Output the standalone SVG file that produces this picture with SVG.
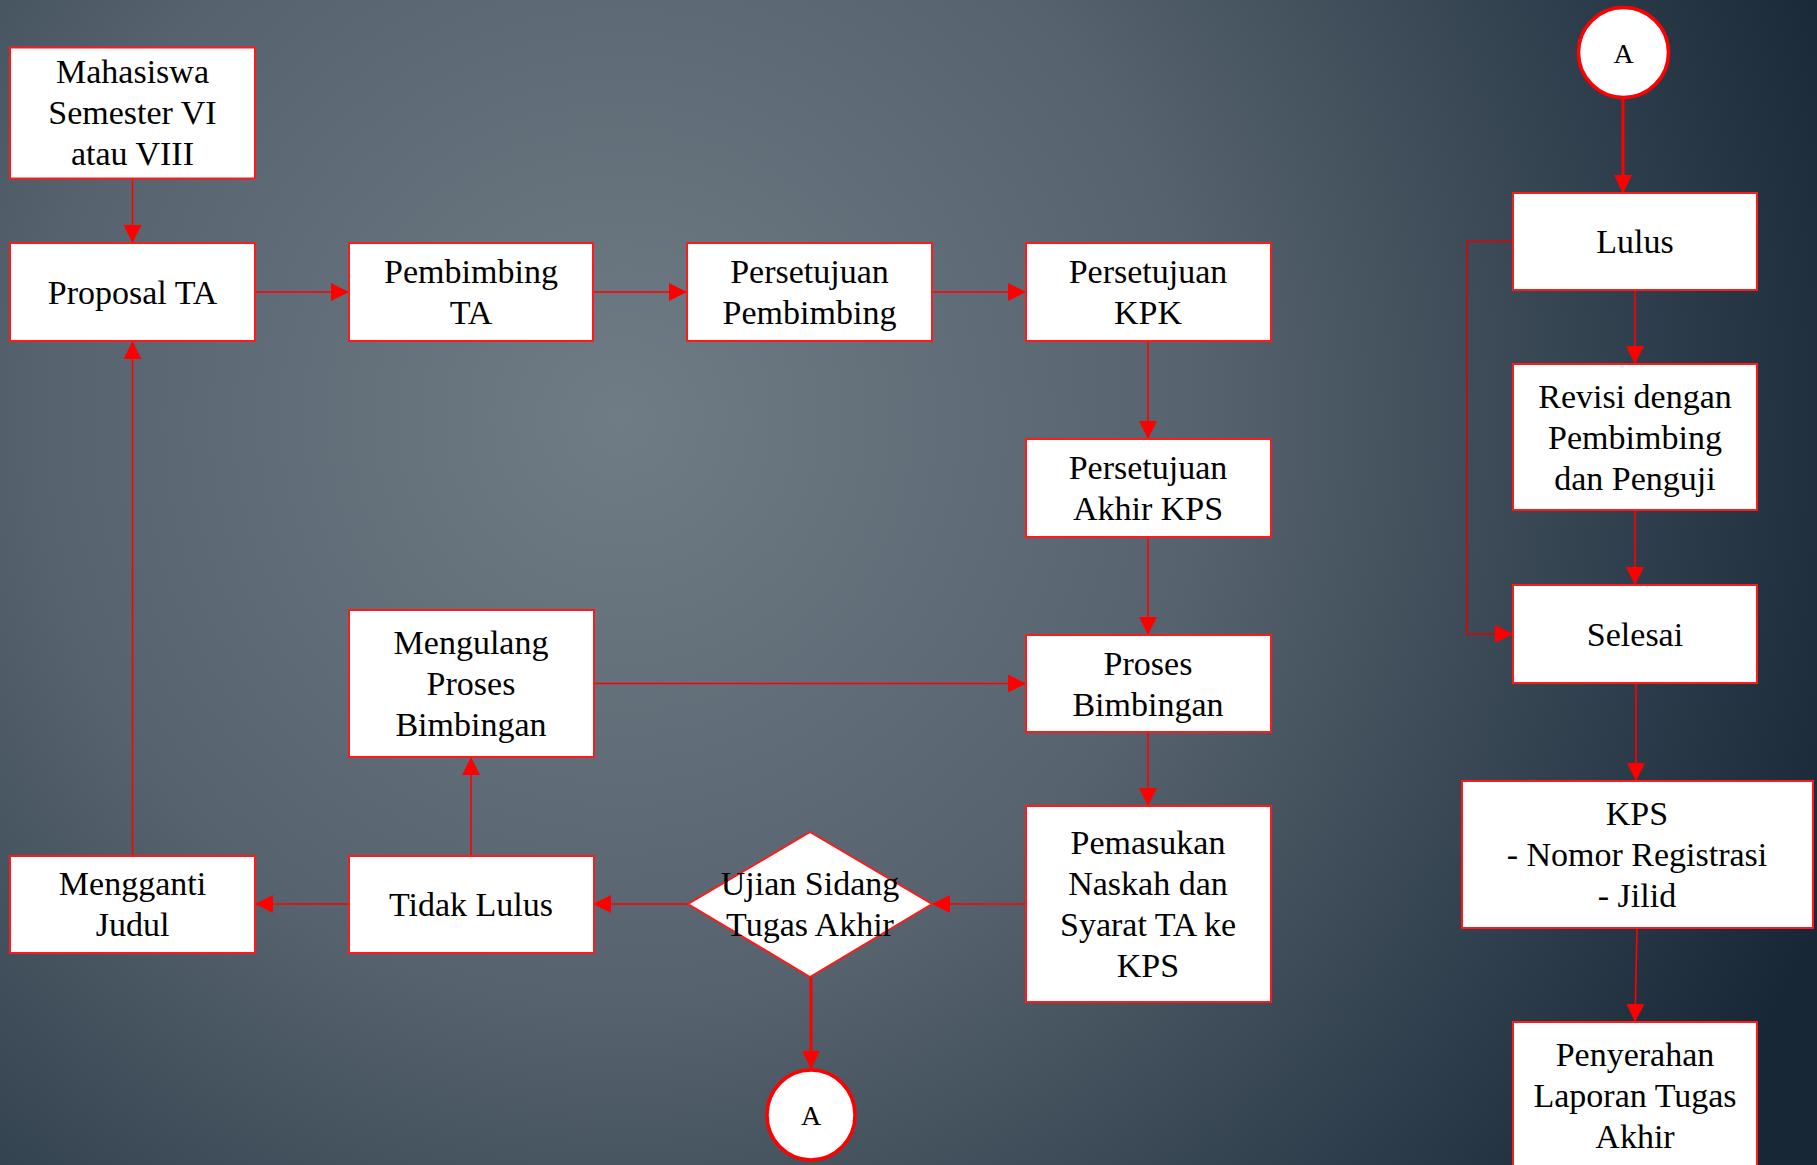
<svg xmlns="http://www.w3.org/2000/svg" width="1817" height="1165" viewBox="0 0 1817 1165">
<defs>
<radialGradient id="bg" gradientUnits="userSpaceOnUse" cx="620" cy="420" r="1300">
<stop offset="0" stop-color="#6f7b85"/>
<stop offset="0.45" stop-color="#56636e"/>
<stop offset="0.8" stop-color="#2e3d4b"/>
<stop offset="1" stop-color="#182736"/>
</radialGradient>
<marker id="ah" markerUnits="userSpaceOnUse" markerWidth="20" markerHeight="20" refX="18" refY="9" orient="auto">
<path d="M0,0 L18,9 L0,18 z" fill="#ff0000"/>
</marker>
<style>
.box{fill:#ffffff;stroke:#ff1a1a;stroke-width:2}
.circ{fill:#ffffff;stroke:#ff0000;stroke-width:3.5}
.t{font-family:"Liberation Serif","Times New Roman",serif;font-size:34px;fill:#000;text-anchor:middle;dominant-baseline:central}
.ta{font-family:"Liberation Serif","Times New Roman",serif;font-size:28px;fill:#000;text-anchor:middle;dominant-baseline:central}
.c{fill:none;stroke:#ff0000;stroke-width:1.6;marker-end:url(#ah)}
.ck{fill:none;stroke:#ff0000;stroke-width:3;marker-end:url(#ah)}
</style>
</defs>
<rect x="0" y="0" width="1817" height="1165" fill="url(#bg)"/>

<g id="connectors">
<path class="c" d="M132.5,178.5 V243"/>
<path class="c" d="M255,292 H349"/>
<path class="c" d="M593,292 H687"/>
<path class="c" d="M932,292 H1026"/>
<path class="c" d="M1148,341 V439"/>
<path class="c" d="M1148,537 V635"/>
<path class="c" d="M1148,732 V806"/>
<path class="c" d="M1026,904 H932"/>
<path class="c" d="M688,904 H593"/>
<path class="c" d="M349,904 H255"/>
<path class="c" d="M471,856 V757"/>
<path class="c" d="M594,683.5 H1026"/>
<path class="c" d="M132.5,855 V341"/>
<path class="ck" d="M811,977 V1069"/>
<path class="ck" d="M1623,98 V193"/>
<path class="c" d="M1635,290 V364"/>
<path class="c" d="M1635,510 V585"/>
<path class="c" d="M1513,241.5 H1467 V634 H1513" style="stroke:#e00000"/>
<path class="c" d="M1636,683 V781"/>
<path class="c" d="M1637,928 L1635,1022"/>
</g>

<g id="n-mahasiswa"><rect class="box" x="10" y="47.5" width="245" height="131"/>
<text class="t" x="132.5" y="71.5">Mahasiswa</text><text class="t" x="132.5" y="112.5">Semester VI</text><text class="t" x="132.5" y="153.5">atau VIII</text></g>

<g id="n-proposal"><rect class="box" x="10" y="243" width="245" height="98"/>
<text class="t" x="132.5" y="292">Proposal TA</text></g>

<g id="n-pembimbing"><rect class="box" x="349" y="243" width="244" height="98"/>
<text class="t" x="471" y="271.5">Pembimbing</text><text class="t" x="471" y="312.5">TA</text></g>

<g id="n-persetujuan-pembimbing"><rect class="box" x="687" y="243" width="245" height="98"/>
<text class="t" x="809.5" y="271.5">Persetujuan</text><text class="t" x="809.5" y="312.5">Pembimbing</text></g>

<g id="n-persetujuan-kpk"><rect class="box" x="1026" y="243" width="245" height="98"/>
<text class="t" x="1148" y="271.5">Persetujuan</text><text class="t" x="1148" y="312.5">KPK</text></g>

<g id="n-akhir-kps"><rect class="box" x="1026" y="439" width="245" height="98"/>
<text class="t" x="1148" y="467.5">Persetujuan</text><text class="t" x="1148" y="508.5">Akhir KPS</text></g>

<g id="n-proses"><rect class="box" x="1026" y="635" width="245" height="97"/>
<text class="t" x="1148" y="663">Proses</text><text class="t" x="1148" y="704">Bimbingan</text></g>

<g id="n-pemasukan"><rect class="box" x="1026" y="806" width="245" height="196"/>
<text class="t" x="1148" y="842.5">Pemasukan</text><text class="t" x="1148" y="883.5">Naskah dan</text><text class="t" x="1148" y="924.5">Syarat TA ke</text><text class="t" x="1148" y="965.5">KPS</text></g>

<g id="n-ujian"><polygon class="box" points="810,832 932,904 810,977 688,904"/>
<text class="t" x="810" y="883.5">Ujian Sidang</text><text class="t" x="810" y="924.5">Tugas Akhir</text></g>

<g id="n-tidak-lulus"><rect class="box" x="349" y="856" width="245" height="97"/>
<text class="t" x="471" y="904">Tidak Lulus</text></g>

<g id="n-mengulang"><rect class="box" x="349" y="610" width="245" height="147"/>
<text class="t" x="471" y="642.5">Mengulang</text><text class="t" x="471" y="683.5">Proses</text><text class="t" x="471" y="724.5">Bimbingan</text></g>

<g id="n-mengganti"><rect class="box" x="10" y="856" width="245" height="97"/>
<text class="t" x="132.5" y="883.5">Mengganti</text><text class="t" x="132.5" y="924.5">Judul</text></g>

<g id="n-a-bottom"><ellipse class="circ" cx="811" cy="1115" rx="44" ry="45"/>
<text class="ta" x="811" y="1115">A</text></g>

<g id="n-a-top"><ellipse class="circ" cx="1623.5" cy="52.5" rx="45" ry="45"/>
<text class="ta" x="1623.5" y="53">A</text></g>

<g id="n-lulus"><rect class="box" x="1513" y="193" width="244" height="97"/>
<text class="t" x="1635" y="241.5">Lulus</text></g>

<g id="n-revisi"><rect class="box" x="1513" y="364" width="244" height="146"/>
<text class="t" x="1635" y="396">Revisi dengan</text><text class="t" x="1635" y="437">Pembimbing</text><text class="t" x="1635" y="478">dan Penguji</text></g>

<g id="n-selesai"><rect class="box" x="1513" y="585" width="244" height="98"/>
<text class="t" x="1635" y="634">Selesai</text></g>

<g id="n-kps"><rect class="box" x="1462" y="781" width="351" height="147"/>
<text class="t" x="1637" y="813">KPS</text><text class="t" x="1637" y="854">- Nomor Registrasi</text><text class="t" x="1637" y="895">- Jilid</text></g>

<g id="n-penyerahan"><rect class="box" x="1513" y="1022" width="244" height="148"/>
<text class="t" x="1635" y="1054">Penyerahan</text><text class="t" x="1635" y="1095">Laporan Tugas</text><text class="t" x="1635" y="1136">Akhir</text></g>
</svg>
